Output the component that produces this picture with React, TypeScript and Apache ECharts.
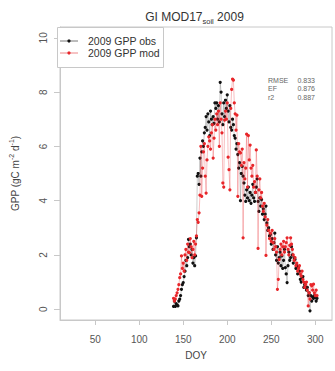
import React, { useEffect, useRef } from "react";
import * as echarts from "echarts";

// Day of year of the first observation; one value per consecutive day
const doyStart = 139;

// Observed GPP (gC m-2 d-1), DOY 139..302
const obsGPP = [
  0.1, 0.3, 0.1, 0.2, 0.15, 0.12, 0.3, 0.37, 0.5, 0.73,
  0.9, 0.98, 1.2, 1.4, 1.8, 1.6, 1.9, 2.57, 2.3, 2.4,
  2.0, 2.2, 1.7, 1.9, 1.6, 1.96, 2.63, 4.9, 5.0, 4.6,
  5.57, 4.9, 5.8, 6.2, 6.0, 6.5, 6.7, 7.1, 6.6, 7.2,
  6.9, 6.4, 7.3, 7.0, 6.8, 7.1, 6.85, 7.6, 7.4, 7.6,
  7.0, 7.5, 6.9, 8.36, 8.0, 7.2, 6.8, 7.6, 7.1, 7.7,
  7.4, 7.9, 7.3, 6.9, 7.5, 6.7, 6.6, 7.0, 6.8, 6.4,
  6.3, 5.9, 6.1, 5.7, 5.2, 5.4, 4.0, 5.0, 5.26, 4.9,
  4.65, 4.2, 3.97, 4.4, 4.1, 4.5, 4.0, 4.3, 3.9, 4.2,
  4.6, 4.1, 3.97, 4.3, 4.5, 4.8, 3.97, 3.6, 4.1, 3.8,
  4.04, 3.5, 3.7, 3.3, 3.5, 3.8, 3.18, 2.9, 3.0, 2.7,
  2.75, 2.4, 2.6, 2.2, 2.45, 2.8, 2.0, 1.8, 2.3, 1.7,
  1.9, 2.1, 1.6, 1.96, 1.5, 1.8, 2.2, 1.53, 1.3, 0.98,
  1.6, 2.1, 1.8, 1.9, 2.3, 2.0, 1.7, 1.9, 1.83, 1.5,
  1.6, 1.3, 1.53, 1.4, 1.1, 1.0, 1.16, 1.2, 0.8, 0.9,
  0.8, 0.7, 0.8, 0.5, 0.6, -0.06, 0.5, 0.3, 0.45, 0.4,
  0.5, 0.43, 0.3, 0.4,
];

// Modelled GPP (MOD17 soil), DOY 139..302
const modGPP = [
  0.4, 0.3, 0.37, 0.5, 0.6, 0.73, 0.9, 1.16, 1.3, 1.96,
  1.5, 1.7, 1.4, 2.0, 2.2, 1.8, 2.4, 2.1, 2.08, 2.6,
  2.3, 1.9, 2.2, 2.5, 2.0, 2.4, 2.7, 3.3, 3.2, 3.55,
  4.2, 6.0, 4.16, 5.2, 5.8, 6.1, 4.9, 4.28, 5.5, 6.0,
  6.35, 6.2, 5.9, 6.5, 6.8, 5.57, 6.3, 7.0, 6.6, 7.2,
  6.8, 7.3, 6.0, 7.6, 7.0, 6.5, 4.65, 4.5, 6.97, 7.3,
  7.0, 7.6, 5.6, 5.14, 4.4, 7.4, 8.1, 8.48, 8.44, 7.6,
  7.2, 6.6, 7.15, 4.16, 6.1, 5.8, 5.76, 5.3, 5.9, 2.63,
  5.4, 4.8, 5.2, 6.45, 4.5, 6.4, 5.5, 6.05, 5.2, 4.9,
  5.3, 4.5, 4.7, 4.3, 5.87, 4.9, 2.24, 4.4, 4.8, 4.1,
  4.3, 3.8, 3.6, 3.9, 3.4, 1.98, 3.1, 3.3, 2.9, 2.6,
  2.8, 2.5, 2.9, 2.45, 2.2, 2.6, 2.3, 2.1, 0.73, 1.1,
  1.83, 2.2, 2.4, 2.0, 2.3, 2.5, 2.1, 2.3, 2.45, 2.63,
  2.2, 2.0, 2.35, 2.63, 2.4, 2.2, 2.0, 1.8, 1.9, 1.6,
  1.7, 1.4, 1.5, 1.6, 1.3, 1.22, 1.4, 1.1, 1.0, 0.8,
  0.9, 1.0, 0.7, 0.12, 0.6, 0.37, 0.9, 0.86, 0.7, 0.92,
  0.6, 0.5, 0.7, 0.5,
];

const xTicks = [50, 100, 150, 200, 250, 300];
const yTicks = [0, 2, 4, 6, 8, 10];
const statLabels = ["RMSE", "EF", "r2"];
const statValues = ["0.833", "0.876", "0.887"];
const seriesNames = ["2009 GPP obs", "2009 GPP mod"];
const seriesColors = ["#111111", "#e8262a"];
const lineColors = ["rgba(60,60,60,0.32)", "rgba(232,38,42,0.38)"];

const FONT = "'Liberation Sans', Arial, Helvetica, sans-serif";

export default function App() {
  const ref = useRef<HTMLDivElement>(null);

  useEffect(() => {
    document.body.style.margin = "0";
    if (!ref.current) return;
    const chart = echarts.init(ref.current, undefined, { renderer: "svg" });

    const toPairs = (arr: number[]) => arr.map((v, i) => [doyStart + i, v]);

    const legendGraphics: any[] = [
      {
        type: "rect",
        shape: { x: 57.5, y: 27.5, width: 106, height: 40 },
        style: { fill: "#fff", stroke: "#c8c8c8", lineWidth: 1 },
        z: 10,
      },
    ];
    seriesNames.forEach((name, i) => {
      const y = 41 + i * 12;
      legendGraphics.push(
        {
          type: "line",
          shape: { x1: 60, y1: y, x2: 78, y2: y },
          style: { stroke: i === 0 ? "#555" : "#e8676a", lineWidth: 0.8 },
          z: 11,
        },
        {
          type: "circle",
          shape: { cx: 69, cy: y, r: 1.6 },
          style: { fill: seriesColors[i] },
          z: 11,
        },
        {
          type: "text",
          x: 88,
          y,
          style: {
            text: name,
            fill: "#333",
            font: `10.5px ${FONT}`,
            verticalAlign: "middle",
          },
          z: 11,
        }
      );
    });

    const statGraphics: any[] = [];
    statLabels.forEach((lab, i) => {
      const y = 80 + i * 8.5;
      statGraphics.push(
        {
          type: "text",
          x: 268,
          y,
          style: { text: lab, fill: "#666", font: `7px ${FONT}`, verticalAlign: "middle" },
        },
        {
          type: "text",
          x: 315,
          y,
          style: {
            text: statValues[i],
            fill: "#666",
            font: `7px ${FONT}`,
            align: "right",
            verticalAlign: "middle",
          },
        }
      );
    });

    chart.setOption({
      animation: false,
      grid: {
        left: 57,
        top: 27,
        right: 3,
        bottom: 51,
        show: true,
        borderColor: "#c8c8c8",
        borderWidth: 1,
      },
      xAxis: {
        type: "value",
        min: 10,
        max: 319,
        axisLine: { show: true, onZero: false, lineStyle: { color: "#c8c8c8", width: 1 } },
        axisTick: { show: true, customValues: xTicks, length: 5, lineStyle: { color: "#c8c8c8" } },
        axisLabel: { customValues: xTicks, margin: 14, fontSize: 10, color: "#555", fontFamily: FONT },
        splitLine: { show: false },
        name: "DOY",
        nameLocation: "middle",
        nameGap: 30,
        nameTextStyle: { fontSize: 10, color: "#444", fontFamily: FONT },
      },
      yAxis: {
        type: "value",
        min: -0.4,
        max: 10.4,
        axisLine: { show: true, onZero: false, lineStyle: { color: "#c8c8c8", width: 1 } },
        axisTick: { show: true, customValues: yTicks, length: 6, lineStyle: { color: "#c8c8c8" } },
        axisLabel: {
          customValues: yTicks,
          rotate: 90,
          margin: 12,
          fontSize: 10,
          color: "#555",
          fontFamily: FONT,
        },
        splitLine: { show: false },
        name: "GPP (gC m{sup|-2} d{sup|-1})",
        nameLocation: "middle",
        nameRotate: 90,
        nameGap: 38,
        nameTextStyle: {
          fontSize: 10,
          color: "#444",
          fontFamily: FONT,
          rich: {
            sup: { fontSize: 7, color: "#444", fontFamily: FONT, padding: [0, 0, 7, 0] },
          },
        },
      },
      series: [
        {
          name: seriesNames[0],
          type: "line",
          data: toPairs(obsGPP),
          symbol: "circle",
          symbolSize: 3.2,
          itemStyle: { color: seriesColors[0] },
          lineStyle: { color: lineColors[0], width: 0.8 },
          z: 2,
        },
        {
          name: seriesNames[1],
          type: "line",
          data: toPairs(modGPP),
          symbol: "circle",
          symbolSize: 3.2,
          itemStyle: { color: seriesColors[1] },
          lineStyle: { color: lineColors[1], width: 0.8 },
          z: 3,
        },
      ],
      graphic: [
        {
          type: "text",
          x: 194.5,
          y: 17,
          style: {
            text: "{a|GI MOD17}{s|soil}{a| 2009}",
            align: "center",
            verticalAlign: "middle",
            rich: {
              a: { fontSize: 12, fill: "#333", fontFamily: FONT },
              s: { fontSize: 7.5, fill: "#333", fontFamily: FONT, padding: [8, 0, 0, 0] },
            },
          },
        },
        ...legendGraphics,
        ...statGraphics,
      ],
    });

    return () => chart.dispose();
  }, []);

  return <div ref={ref} style={{ width: 335, height: 371 }} />;
}
